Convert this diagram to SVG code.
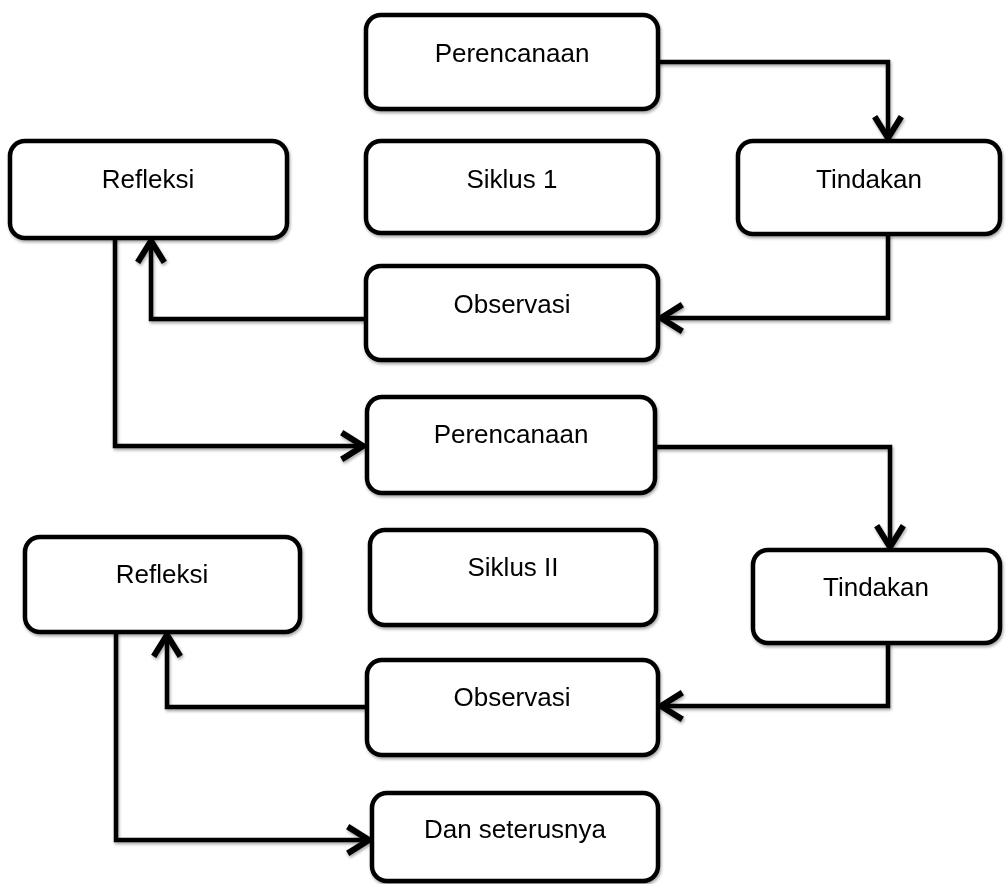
<svg xmlns="http://www.w3.org/2000/svg" width="1007" height="884" viewBox="0 0 1007 884">
<style>
.box{fill:#fff;stroke:#000;stroke-width:4.5}
.lbl{font-family:"Liberation Sans",Arial,sans-serif;font-size:26px;fill:#000;text-anchor:middle}
.con{fill:none;stroke:#000;stroke-width:4.5;stroke-linejoin:miter}
</style>
<defs>
<filter id="sh" x="-10%" y="-10%" width="120%" height="130%">
<feDropShadow dx="1" dy="2" stdDeviation="1.5" flood-color="#000" flood-opacity="0.35"/>
</filter>
<marker id="arr" markerUnits="userSpaceOnUse" markerWidth="40" markerHeight="40" viewBox="-20 -15 24 30" refX="0" refY="0" orient="auto" overflow="visible">
<path d="M-16,-10 L0,0 L-16,10" fill="none" stroke="#000" stroke-width="4.5" stroke-linejoin="miter"/>
</marker>
</defs>
<rect width="1007" height="884" fill="#fff"/>
<g id="connectors" filter="url(#sh)">
<path class="con" d="M658,62 H888 V138" marker-end="url(#arr)"/>
<path class="con" d="M888,234 V318 H661" marker-end="url(#arr)"/>
<path class="con" d="M366,319 H151 V241" marker-end="url(#arr)"/>
<path class="con" d="M115,238 V446 H363" marker-end="url(#arr)"/>
<path class="con" d="M655,447 H890 V547" marker-end="url(#arr)"/>
<path class="con" d="M888,643 V706 H661" marker-end="url(#arr)"/>
<path class="con" d="M367,707 H167 V635" marker-end="url(#arr)"/>
<path class="con" d="M116,632 V840 H369" marker-end="url(#arr)"/>
</g>
<g id="perencanaan1" filter="url(#sh)"><rect class="box" x="366" y="15" width="292" height="94" rx="15"/><text class="lbl" x="512" y="62">Perencanaan</text></g>
<g id="refleksi1" filter="url(#sh)"><rect class="box" x="10" y="141" width="277" height="97" rx="15"/><text class="lbl" x="148" y="188">Refleksi</text></g>
<g id="siklus1" filter="url(#sh)"><rect class="box" x="366" y="141" width="292" height="92" rx="15"/><text class="lbl" x="512" y="188">Siklus 1</text></g>
<g id="tindakan1" filter="url(#sh)"><rect class="box" x="738" y="141" width="262" height="93" rx="15"/><text class="lbl" x="869" y="188">Tindakan</text></g>
<g id="observasi1" filter="url(#sh)"><rect class="box" x="366" y="266" width="292" height="94" rx="15"/><text class="lbl" x="512" y="313">Observasi</text></g>
<g id="perencanaan2" filter="url(#sh)"><rect class="box" x="367" y="397" width="288" height="96" rx="15"/><text class="lbl" x="511" y="443">Perencanaan</text></g>
<g id="refleksi2" filter="url(#sh)"><rect class="box" x="25" y="537" width="275" height="95" rx="15"/><text class="lbl" x="162" y="583">Refleksi</text></g>
<g id="siklus2" filter="url(#sh)"><rect class="box" x="370" y="530" width="286" height="95" rx="15"/><text class="lbl" x="513" y="576">Siklus II</text></g>
<g id="tindakan2" filter="url(#sh)"><rect class="box" x="753" y="550" width="247" height="93" rx="15"/><text class="lbl" x="876" y="596">Tindakan</text></g>
<g id="observasi2" filter="url(#sh)"><rect class="box" x="367" y="660" width="291" height="95" rx="15"/><text class="lbl" x="512" y="706">Observasi</text></g>
<g id="dan" filter="url(#sh)"><rect class="box" x="372" y="793" width="286" height="88" rx="15"/><text class="lbl" x="515" y="838">Dan seterusnya</text></g>
</svg>
